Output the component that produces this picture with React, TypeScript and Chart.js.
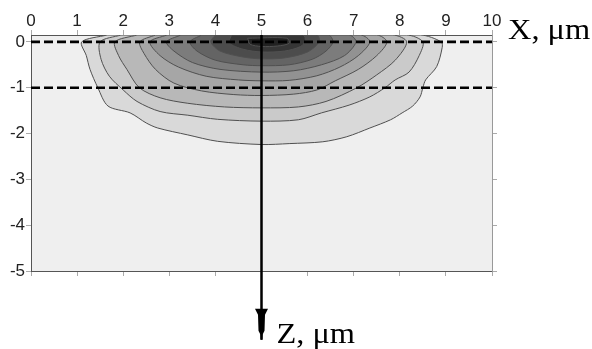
import { useEffect, useRef } from "react";
import { Chart, registerables } from "chart.js";

Chart.register(...registerables);

type Pt = [number, number];

// ---- axes / ticks ----
const xTickValues = [0, 1, 2, 3, 4, 5, 6, 7, 8, 9, 10];
const zTickValues = [-5, -4, -3, -2, -1, 0];
const xRange = [0, 10];
const zRange = [-5, 0.15];

// ---- reference lines ----
const dashedDepths = [0, -1];
const arrowX = 5;
const arrowTipZ = -6.5;

// ---- contour boundaries (x, z in µm), outer to inner ----
const contour1: Pt[] = [
  [1.65, 0.15], [1.1, 0], [1.2, -0.3], [1.28, -0.6], [1.45, -1.0], [1.67, -1.4],
  [2.15, -1.55], [2.5, -1.77], [2.75, -1.88], [3.4, -2.03], [4.05, -2.17], [5.0, -2.24],
  [5.6, -2.22], [6.33, -2.18], [6.85, -2.07], [7.35, -1.88], [7.8, -1.7], [8.05, -1.55],
  [8.28, -1.4], [8.44, -1.2], [8.5, -1.0], [8.56, -0.83], [8.8, -0.54], [8.92, -0.12],
  [8.9, 0], [8.45, 0.15],
];
const contour2: Pt[] = [
  [1.95, 0.15], [1.5, 0], [1.52, -0.38], [1.7, -0.75], [2.0, -1.05], [2.3, -1.3],
  [2.8, -1.52], [3.4, -1.6], [4.05, -1.69], [5.0, -1.73], [5.8, -1.7], [6.3, -1.55],
  [6.9, -1.38], [7.35, -1.2], [7.68, -1.0], [7.9, -0.83], [8.2, -0.66], [8.42, -0.3],
  [8.5, 0], [8.15, 0.15],
];
const contour3: Pt[] = [
  [2.3, 0.15], [1.82, 0], [1.9, -0.3], [2.08, -0.6], [2.35, -1.0], [2.8, -1.22],
  [3.4, -1.34], [4.2, -1.42], [5.0, -1.44], [5.8, -1.42], [6.4, -1.3], [7.07, -1.0],
  [7.5, -0.72], [7.9, -0.4], [8.15, 0], [7.85, 0.15],
];
const contour4: Pt[] = [
  [2.7, 0.15], [2.36, 0], [2.45, -0.25], [2.7, -0.6], [3.1, -0.9], [3.7, -1.07],
  [4.4, -1.15], [5.0, -1.17], [5.7, -1.14], [6.2, -1.05], [6.6, -0.85], [7.1, -0.6],
  [7.5, -0.3], [7.72, 0], [7.5, 0.15],
];
const contour5: Pt[] = [
  [2.95, 0.15], [2.58, 0], [2.8, -0.3], [3.2, -0.55], [3.8, -0.75], [4.5, -0.83],
  [5.0, -0.85], [5.6, -0.84], [6.2, -0.74], [6.7, -0.55], [7.1, -0.3], [7.35, 0],
  [7.15, 0.15],
];
const contour6: Pt[] = [
  [3.25, 0.15], [2.94, 0], [3.1, -0.2], [3.5, -0.45], [4.1, -0.6], [5.0, -0.66],
  [5.7, -0.63], [6.3, -0.5], [6.8, -0.3], [7.05, 0], [6.9, 0.15],
];
const contour7: Pt[] = [
  [3.7, 0.15], [3.45, 0], [3.6, -0.2], [4.0, -0.4], [4.6, -0.5], [5.0, -0.52],
  [5.6, -0.5], [6.1, -0.38], [6.4, -0.2], [6.55, 0], [6.45, 0.15],
];
const contour8: Pt[] = [
  [4.0, 0.15], [3.9, 0], [4.1, -0.2], [4.6, -0.33], [5.0, -0.37], [5.5, -0.35],
  [6.0, -0.22], [6.25, 0], [6.2, 0.15],
];
const contour9: Pt[] = [
  [4.35, 0.15], [4.3, -0.02], [4.6, -0.16], [5.0, -0.22], [5.5, -0.2], [5.85, -0.1],
  [5.95, 0.02], [5.9, 0.15],
];
const contour10: Pt[] = [
  [4.7, 0.08], [4.75, -0.05], [5.0, -0.1], [5.35, -0.09], [5.6, -0.03], [5.55, 0.08],
];

const contourLevels = [
  contour1, contour2, contour3, contour4, contour5,
  contour6, contour7, contour8, contour9, contour10,
];
const contourFills = [
  "#d9d9d9", "#cacaca", "#b8b8b8", "#a6a6a6", "#929292",
  "#7c7c7c", "#646464", "#4c4c4c", "#363636", "#222222",
];

const xLabel = "X, \u03bcm";
const zLabel = "Z, \u03bcm";

export default function App() {
  const ref = useRef<HTMLCanvasElement | null>(null);

  useEffect(() => {
    const canvas = ref.current;
    if (!canvas) return;

    const contourDatasets = contourLevels.map((c, i) => ({
      data: [...c, c[0]].map(([x, y]) => ({ x, y })),
      showLine: true,
      fill: "shape",
      backgroundColor: contourFills[i],
      borderColor: "#505050",
      borderWidth: 1,
      pointRadius: 0,
      tension: 0.3,
      order: 100 - i,
    }));

    const dashedDatasets = dashedDepths.map((d) => ({
      data: [
        { x: xRange[0], y: d },
        { x: xRange[1], y: d },
      ],
      showLine: true,
      borderColor: "#000",
      borderWidth: 2.6,
      borderDash: [9, 4],
      pointRadius: 0,
      fill: false,
      order: 10,
    }));

    const arrowDataset = {
      data: [
        { x: arrowX, y: zRange[1] },
        { x: arrowX, y: arrowTipZ },
      ],
      showLine: true,
      borderColor: "#000",
      borderWidth: 2.5,
      pointRadius: 0,
      fill: false,
      order: 1,
      clip: false,
    };

    const datasets: any[] = [...contourDatasets, ...dashedDatasets, arrowDataset];
    const arrowIndex = datasets.length - 1;

    const bgPlugin = {
      id: "plotBg",
      beforeDraw(chart: any) {
        const { ctx, chartArea: a } = chart;
        ctx.save();
        ctx.fillStyle = "#efefef";
        ctx.fillRect(a.left, a.top, a.right - a.left, a.bottom - a.top);
        ctx.restore();
      },
    };

    const annotPlugin = {
      id: "annot",
      afterDraw(chart: any) {
        const { ctx, chartArea: a } = chart;
        const tip = chart.getDatasetMeta(arrowIndex).data[1];
        const x = tip.x;
        const y = tip.y;
        ctx.save();
        ctx.fillStyle = "#000";
        ctx.beginPath();
        ctx.moveTo(x - 6.5, y - 31);
        ctx.lineTo(x + 6.5, y - 31);
        ctx.lineTo(x + 3.5, y - 25);
        ctx.lineTo(x + 3, y - 9);
        ctx.lineTo(x + 1, y - 5);
        ctx.lineTo(x + 0.7, y);
        ctx.lineTo(x - 0.7, y);
        ctx.lineTo(x - 1, y - 5);
        ctx.lineTo(x - 3, y - 9);
        ctx.lineTo(x - 3.5, y - 25);
        ctx.closePath();
        ctx.fill();

        ctx.font = '30px "Liberation Serif"';
        ctx.textBaseline = "alphabetic";
        ctx.textAlign = "left";
        ctx.save();
        ctx.translate(x + 15, y + 3);
        ctx.scale(1.08, 1);
        ctx.fillText(zLabel, 0, 0);
        ctx.restore();
        ctx.save();
        ctx.translate(a.right + 16, a.top + 4);
        ctx.scale(1.08, 1);
        ctx.fillText(xLabel, 0, 0);
        ctx.restore();
        ctx.restore();
      },
    };

    const tickFont = { family: '"Liberation Sans", Arial, sans-serif', size: 17 };
    const gridOpts = {
      drawOnChartArea: false,
      drawTicks: true,
      tickLength: 5,
      color: "#aaaaaa",
    };
    const borderOpts = { display: true, color: "#555555", width: 1 };
    const setXTicks = (s: any) => {
      s.ticks = xTickValues.map((v) => ({ value: v }));
    };
    const setZTicks = (s: any) => {
      s.ticks = zTickValues.map((v) => ({ value: v }));
    };

    const chart = new Chart(canvas, {
      type: "scatter",
      data: { datasets },
      options: {
        animation: false,
        responsive: false,
        events: [],
        layout: { padding: 0 },
        plugins: {
          legend: { display: false },
          tooltip: { enabled: false },
          title: { display: false },
        },
        scales: {
          x: {
            type: "linear",
            position: "top",
            min: xRange[0],
            max: xRange[1],
            afterBuildTicks: setXTicks,
            afterFit: (s: any) => {
              s.height = 35;
            },
            ticks: { font: tickFont, color: "#222", padding: -2, maxRotation: 0, autoSkip: false },
            grid: gridOpts,
            border: borderOpts,
            z: 1,
          },
          x2: {
            type: "linear",
            position: "bottom",
            min: xRange[0],
            max: xRange[1],
            afterBuildTicks: setXTicks,
            afterFit: (s: any) => {
              s.height = 78;
            },
            ticks: { display: false },
            grid: gridOpts,
            border: borderOpts,
            z: 1,
          },
          y: {
            type: "linear",
            position: "left",
            min: zRange[0],
            max: zRange[1],
            afterBuildTicks: setZTicks,
            afterFit: (s: any) => {
              s.width = 31;
            },
            ticks: { font: tickFont, color: "#222", padding: 1, autoSkip: false },
            grid: gridOpts,
            border: borderOpts,
            z: 1,
          },
          y2: {
            type: "linear",
            position: "right",
            min: zRange[0],
            max: zRange[1],
            afterBuildTicks: setZTicks,
            afterFit: (s: any) => {
              s.width = 100;
            },
            ticks: { display: false },
            grid: gridOpts,
            border: { display: true, color: "#999999", width: 1 },
            z: 1,
          },
        },
      } as any,
      plugins: [bgPlugin, annotPlugin],
    });

    return () => chart.destroy();
  }, []);

  return (
    <div style={{ position: "absolute", left: 0, top: 0, width: 592, height: 349, background: "#fff" }}>
      <canvas ref={ref} width={592} height={349} style={{ display: "block" }} />
    </div>
  );
}
